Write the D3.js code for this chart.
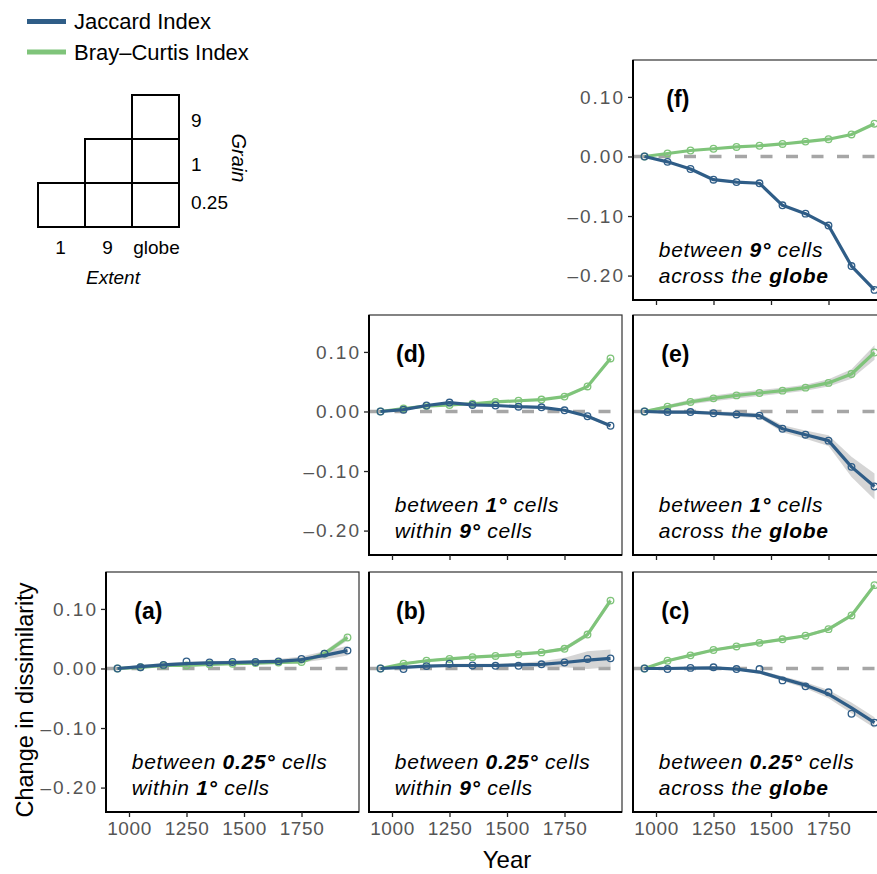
<!DOCTYPE html>
<html>
<head>
<meta charset="utf-8">
<script src="https://cdn.jsdelivr.net/npm/d3@7/dist/d3.min.js"></script>
<style>
  body { margin: 0; background: #fff; }
  svg { display: block; font-family: "Liberation Sans", Arial, sans-serif; }
</style>
</head>
<body>
<svg id="chart" width="877" height="874"></svg>
<script>
(() => {
    'use strict';

    // ---- data ----
    const years = [950, 1050, 1150, 1250, 1350, 1450, 1550, 1650, 1750, 1850, 1950];
    const xTicks = [1000, 1250, 1500, 1750];
    const yTicks = [0.1, 0, -0.1, -0.2];

    // (a) 0.25 deg within 1 deg
    const jaccardA    = [0, 0.002, 0.006, 0.012, 0.010, 0.011, 0.011, 0.012, 0.016, 0.025, 0.030];
    const jaccardFitA = [0, 0.003, 0.006, 0.008, 0.0095, 0.010, 0.011, 0.012, 0.015, 0.022, 0.030];
    const brayA       = [0, 0.002, 0.005, 0.005, 0.007, 0.008, 0.009, 0.010, 0.011, 0.025, 0.052];
    const jBandA      = [0.002, 0.003, 0.003, 0.003, 0.003, 0.003, 0.003, 0.004, 0.005, 0.007, 0.008];
    const bBandA      = [0.001, 0.002, 0.002, 0.002, 0.002, 0.002, 0.002, 0.002, 0.003, 0.004, 0.005];

    // (b) 0.25 deg within 9 deg
    const jaccardB    = [0, -0.001, 0.004, 0.008, 0.005, 0.0045, 0.0045, 0.007, 0.010, 0.016, 0.017];
    const jaccardFitB = [0, 0.002, 0.004, 0.005, 0.005, 0.005, 0.006, 0.007, 0.010, 0.014, 0.017];
    const brayB       = [0, 0.008, 0.013, 0.016, 0.019, 0.021, 0.024, 0.027, 0.033, 0.057, 0.114];
    const jBandB      = [0.002, 0.002, 0.002, 0.003, 0.003, 0.003, 0.003, 0.005, 0.008, 0.015, 0.015];
    const bBandB      = [0.001, 0.002, 0.002, 0.002, 0.002, 0.002, 0.002, 0.002, 0.003, 0.004, 0.005];

    // (c) 0.25 deg across the globe
    const jaccardC    = [0, -0.001, 0.001, 0.002, -0.001, -0.001, -0.020, -0.030, -0.040, -0.076, -0.091];
    const jaccardFitC = [0, 0, 0.0005, 0.001, -0.001, -0.006, -0.017, -0.028, -0.043, -0.066, -0.091];
    const brayC       = [0, 0.013, 0.022, 0.031, 0.037, 0.043, 0.049, 0.055, 0.066, 0.089, 0.140];
    const jBandC      = [0.002, 0.002, 0.002, 0.002, 0.002, 0.003, 0.004, 0.005, 0.007, 0.009, 0.009];
    const bBandC      = [0.001, 0.002, 0.002, 0.002, 0.002, 0.002, 0.002, 0.002, 0.003, 0.003, 0.004];

    // (d) 1 deg within 9 deg
    const jaccardD    = [0, 0.003, 0.010, 0.015, 0.011, 0.010, 0.008, 0.007, 0.002, -0.008, -0.024];
    const brayD       = [0, 0.005, 0.009, 0.011, 0.013, 0.016, 0.018, 0.020, 0.025, 0.042, 0.089];
    const jBandD      = [0.001, 0.001, 0.001, 0.001, 0.001, 0.001, 0.001, 0.001, 0.002, 0.002, 0.003];
    const bBandD      = [0.001, 0.001, 0.001, 0.001, 0.001, 0.001, 0.001, 0.001, 0.002, 0.002, 0.003];

    // (e) 1 deg across the globe
    const jaccardE    = [0, -0.001, -0.001, -0.003, -0.005, -0.007, -0.029, -0.039, -0.049, -0.093, -0.126];
    const brayE       = [0, 0.008, 0.016, 0.022, 0.027, 0.031, 0.035, 0.040, 0.048, 0.063, 0.099];
    const jBandE      = [0.002, 0.003, 0.003, 0.003, 0.004, 0.004, 0.006, 0.007, 0.009, 0.017, 0.022];
    const bBandE      = [0.002, 0.003, 0.004, 0.005, 0.005, 0.005, 0.005, 0.005, 0.006, 0.008, 0.012];

    // (f) 9 deg across the globe
    const jaccardF    = [0, -0.009, -0.021, -0.039, -0.043, -0.045, -0.082, -0.096, -0.116, -0.184, -0.224];
    const brayF       = [0, 0.005, 0.010, 0.013, 0.016, 0.018, 0.021, 0.025, 0.029, 0.037, 0.055];

    const seriesNames = ['Jaccard Index', 'Bray\u2013Curtis Index'];
    const extentLabels = ['1', '9', 'globe'];
    const grainLabels = ['9', '1', '0.25'];
    // [extent column, grain row] of the boxes in the key
    const keyCells = [[2, 0], [1, 1], [2, 1], [0, 2], [1, 2], [2, 2]];

    const blue = '#2f5d87',
          green = '#7fc47a';

    const panels = [
        { label: '(a)', col: 0, row: 2, jac: jaccardA, jacFit: jaccardFitA, bray: brayA, jBand: jBandA, bBand: bBandA,
          caption: [[['between ', 0], ['0.25\u00b0', 1], [' cells', 0]], [['within ', 0], ['1\u00b0', 1], [' cells', 0]]] },
        { label: '(b)', col: 1, row: 2, jac: jaccardB, jacFit: jaccardFitB, bray: brayB, jBand: jBandB, bBand: bBandB,
          caption: [[['between ', 0], ['0.25\u00b0', 1], [' cells', 0]], [['within ', 0], ['9\u00b0', 1], [' cells', 0]]] },
        { label: '(c)', col: 2, row: 2, jac: jaccardC, jacFit: jaccardFitC, bray: brayC, jBand: jBandC, bBand: bBandC,
          caption: [[['between ', 0], ['0.25\u00b0', 1], [' cells', 0]], [['across the ', 0], ['globe', 1]]] },
        { label: '(d)', col: 1, row: 1, jac: jaccardD, jacFit: jaccardD, bray: brayD, jBand: jBandD, bBand: bBandD,
          caption: [[['between ', 0], ['1\u00b0', 1], [' cells', 0]], [['within ', 0], ['9\u00b0', 1], [' cells', 0]]] },
        { label: '(e)', col: 2, row: 1, jac: jaccardE, jacFit: jaccardE, bray: brayE, jBand: jBandE, bBand: bBandE,
          caption: [[['between ', 0], ['1\u00b0', 1], [' cells', 0]], [['across the ', 0], ['globe', 1]]] },
        { label: '(f)', col: 2, row: 0, jac: jaccardF, jacFit: jaccardF, bray: brayF, jBand: null, bBand: null,
          caption: [[['between ', 0], ['9\u00b0', 1], [' cells', 0]], [['across the ', 0], ['globe', 1]]] }
    ];

    // ---- layout ----
    const colLeft = [106, 369, 633],
          rowTop = [60, 315, 572],
          panelW = 253,
          panelH = 240,
          firstCol = [2, 1, 0];

    const svg = d3.select('#chart');
    svg.append('rect').attr('width', 877).attr('height', 874).attr('fill', '#fff');

    panels.forEach(p => {
        const left = colLeft[p.col],
              top = rowTop[p.row],
              x = d3.scaleLinear().domain([900, 2000]).range([left, left + panelW]),
              y = d3.scaleLinear().domain([-0.241, 0.162]).range([top + panelH, top]),
              g = svg.append('g');

        g.append('line')
            .attr('x1', left).attr('x2', left + panelW)
            .attr('y1', y(0)).attr('y2', y(0))
            .attr('stroke', '#a6a6a6')
            .attr('stroke-width', 3.5)
            .attr('stroke-dasharray', '12,13.5');

        const band = (fit, half) => d3.area()
            .x((d, i) => x(years[i]))
            .y0((d, i) => y(fit[i] - half[i]))
            .y1((d, i) => y(fit[i] + half[i]))(years);

        if (p.bBand) {
            g.append('path').attr('d', band(p.bray, p.bBand)).attr('fill', '#b3b3b3').attr('opacity', 0.55);
            g.append('path').attr('d', band(p.jacFit, p.jBand)).attr('fill', '#b3b3b3').attr('opacity', 0.55);
        }

        const line = d3.line().x((d, i) => x(years[i])).y(d => y(d));

        [[p.bray, p.bray, green], [p.jacFit, p.jac, blue]].forEach(([fit, pts, colour]) => {
            g.append('path')
                .attr('d', line(fit))
                .attr('fill', 'none')
                .attr('stroke', colour)
                .attr('stroke-width', 3.2)
                .attr('stroke-linejoin', 'round');

            g.selectAll(null)
                .data(pts)
                .enter()
                .append('circle')
                .attr('cx', (d, i) => x(years[i]))
                .attr('cy', d => y(d))
                .attr('r', 3.3)
                .attr('fill', 'none')
                .attr('stroke', colour)
                .attr('stroke-width', 1.3);
        });

        // panel frame: thin top/right, heavier left/bottom axis lines
        g.append('rect')
            .attr('x', left).attr('y', top)
            .attr('width', panelW).attr('height', panelH)
            .attr('fill', 'none').attr('stroke', '#333').attr('stroke-width', 1.2);
        g.append('path')
            .attr('d', `M${left},${top}V${top + panelH}H${left + panelW}`)
            .attr('fill', 'none').attr('stroke', '#000').attr('stroke-width', 2);

        g.append('g')
            .attr('class', 'xaxis')
            .attr('transform', `translate(0,${top + panelH})`)
            .call(d3.axisBottom(x).tickValues(xTicks).tickSize(5).tickPadding(5)
                .tickFormat(d => p.row === 2 ? d : ''));

        if (firstCol[p.row] === p.col) {
            g.append('g')
                .attr('class', 'yaxis')
                .attr('transform', `translate(${left},0)`)
                .call(d3.axisLeft(y).tickValues(yTicks).tickSize(5).tickPadding(3)
                    .tickFormat(d => d3.format('.2f')(d).replace('\u2212', '\u2013')));
        }

        g.selectAll('.domain').remove();
        g.selectAll('.tick line').attr('stroke', '#222').attr('stroke-width', 1.3);
        g.selectAll('.tick text')
            .attr('fill', '#555')
            .attr('font-size', 19)
            .attr('font-family', '"Liberation Sans", Arial, sans-serif');
        g.selectAll('.xaxis .tick text').style('letter-spacing', '0.6px');
        g.selectAll('.yaxis .tick text').style('letter-spacing', '2px');

        g.append('text')
            .attr('x', x(1145))
            .attr('y', y(0.097))
            .attr('text-anchor', 'end')
            .attr('dominant-baseline', 'central')
            .attr('font-size', 23)
            .attr('font-weight', 'bold')
            .text(p.label);

        p.caption.forEach((parts, k) => {
            const t = g.append('text')
                .attr('x', x(1012))
                .attr('y', y(-0.169) + k * 26)
                .attr('font-size', 21)
                .attr('font-style', 'italic')
                .style('letter-spacing', '0.7px');
            parts.forEach(([s, b]) => {
                t.append('tspan').attr('font-weight', b ? 'bold' : 'normal').text(s);
            });
        });
    });

    // axis titles
    svg.append('text')
        .attr('transform', 'translate(33,700) rotate(-90)')
        .attr('text-anchor', 'middle')
        .attr('font-size', 23.5)
        .text('Change in dissimilarity');

    svg.append('text')
        .attr('x', 507)
        .attr('y', 868)
        .attr('text-anchor', 'middle')
        .attr('font-size', 24)
        .text('Year');

    // legend
    const legend = svg.append('g');
    [blue, green].forEach((colour, i) => {
        legend.append('line')
            .attr('x1', 27).attr('x2', 66)
            .attr('y1', 21.5 + i * 30.5).attr('y2', 21.5 + i * 30.5)
            .attr('stroke', colour).attr('stroke-width', 5);
        legend.append('text')
            .attr('x', 74)
            .attr('y', 21.5 + i * 30.5)
            .attr('dominant-baseline', 'central')
            .attr('font-size', 22)
            .text(seriesNames[i]);
    });

    // extent / grain key
    const kx = d3.scaleBand().domain([0, 1, 2]).range([38, 179]),
          ky = d3.scaleBand().domain([0, 1, 2]).range([95, 227]),
          key = svg.append('g');

    key.selectAll('rect')
        .data(keyCells)
        .enter()
        .append('rect')
        .attr('x', d => kx(d[0]))
        .attr('y', d => ky(d[1]))
        .attr('width', kx.bandwidth())
        .attr('height', ky.bandwidth())
        .attr('fill', 'none')
        .attr('stroke', '#000')
        .attr('stroke-width', 2);

    key.selectAll('.ext')
        .data(extentLabels)
        .enter()
        .append('text')
        .attr('x', (d, i) => kx(i) + kx.bandwidth() / 2 + (i === 2 ? 1 : -1))
        .attr('y', 247)
        .attr('text-anchor', 'middle')
        .attr('dominant-baseline', 'central')
        .attr('font-size', 19)
        .text(d => d);

    key.selectAll('.grn')
        .data(grainLabels)
        .enter()
        .append('text')
        .attr('x', 191)
        .attr('y', (d, i) => ky(i) + ky.bandwidth() / 2 + (i === 2 ? -3 : 3))
        .attr('dominant-baseline', 'central')
        .attr('font-size', 19)
        .text(d => d);

    key.append('text')
        .attr('x', 113).attr('y', 277)
        .attr('text-anchor', 'middle')
        .attr('dominant-baseline', 'central')
        .attr('font-size', 19)
        .attr('font-style', 'italic')
        .text('Extent');

    key.append('text')
        .attr('transform', 'translate(239,158) rotate(90)')
        .attr('text-anchor', 'middle')
        .attr('dominant-baseline', 'central')
        .attr('font-size', 20)
        .attr('font-style', 'italic')
        .text('Grain');
})();
</script>
</body>
</html>
